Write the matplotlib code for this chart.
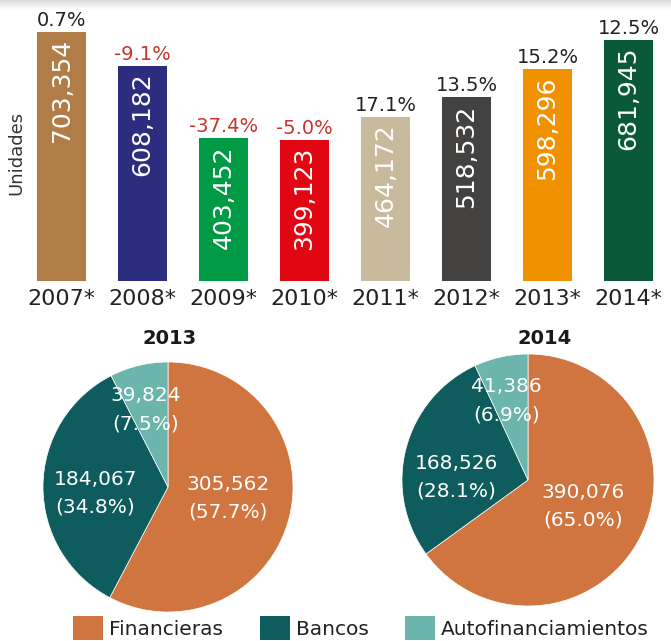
import numpy as np
import matplotlib

matplotlib.use("Agg")
import matplotlib.pyplot as plt
from matplotlib.patches import Patch

# ------------------------------------------------------------------ #
# Data
# ------------------------------------------------------------------ #
years = ["2007*", "2008*", "2009*", "2010*", "2011*", "2012*", "2013*", "2014*"]
units = [703354, 608182, 403452, 399123, 464172, 518532, 598296, 681945]
growth = [0.7, -9.1, -37.4, -5.0, 17.1, 13.5, 15.2, 12.5]
bar_colors = ["#B07D48", "#2D2D7F", "#009944", "#E20613",
              "#C9B99D", "#434241", "#F29100", "#0A5A3A"]

segments = ["Financieras", "Bancos", "Autofinanciamientos"]
pie_2013 = [305562, 184067, 39824]
pie_2014 = [390076, 168526, 41386]
pie_colors = ["#D07540", "#0E5C5E", "#6BB5AC"]

# label anchor positions inside each pie (axis units, radius = 1)
LABEL_POS = {
    "2013": [(0.48, -0.09), (-0.58, -0.05), (-0.18, 0.62)],
    "2014": [(0.44, -0.21), (-0.57, 0.02), (-0.17, 0.63)],
}

W, H = 671, 641
fig = plt.figure(figsize=(W / 100, H / 100), dpi=100)
plt.rcParams["font.family"] = ["DejaVu Sans"]


def fx(px):
    return px / W


def fy(py):
    return 1 - py / H


# faint shadow along the top edge
sh = fig.add_axes([0, fy(10), 1, 10 / H])
grad = np.linspace(0.86, 1.0, 50).reshape(-1, 1)
sh.imshow(grad, cmap="gray", vmin=0, vmax=1, aspect="auto", extent=(0, 1, 0, 1))
sh.axis("off")

# ------------------------------------------------------------------ #
# Bar chart
# ------------------------------------------------------------------ #
bar_bottom = 281
ax = fig.add_axes([fx(21), fy(bar_bottom), fx(648), bar_bottom / H])
ax.patch.set_visible(False)
x = np.arange(len(years))
ax.bar(x, units, width=0.6, color=bar_colors)
ax.set_xlim(-0.5, len(years) - 0.5)
ax.set_ylim(0, units[0] / 249 * bar_bottom)
for s in ax.spines.values():
    s.set_visible(False)
ax.set_yticks([])
ax.set_xticks(x)
ax.set_xticklabels(years, fontsize=16, color="#222222")
ax.tick_params(axis="x", length=0, pad=6)

for xi, v, g in zip(x, units, growth):
    ax.annotate(f"{v:,}", (xi, v), xytext=(0, -7), textcoords="offset pixels",
                rotation=90, ha="center", va="top", color="white", fontsize=18)
    ax.annotate(f"{g:.1f}%", (xi, v), xytext=(0, 6), textcoords="offset pixels",
                ha="center", va="baseline", fontsize=14,
                color="#C8352B" if g < 0 else "#222222")

fig.text(fx(16), fy(153), "Unidades", rotation=90, ha="center", va="center",
         fontsize=13, color="#333333")

# ------------------------------------------------------------------ #
# Pie charts
# ------------------------------------------------------------------ #
def draw_pie(cx, cy, r, values, title, title_x, pos):
    lim = 1.05
    side = 2 * r * lim
    pa = fig.add_axes([fx(cx - side / 2), fy(cy + side / 2), side / W, side / H])
    pa.patch.set_visible(False)
    pa.pie(values, colors=pie_colors, startangle=90, counterclock=False,
           wedgeprops=dict(edgecolor="white", linewidth=0.5))
    pa.set_xlim(-lim, lim)
    pa.set_ylim(-lim, lim)
    total = sum(values)
    for v, (px, py) in zip(values, pos):
        pa.text(px, py, f"{v:,}\n({v / total * 100:.1f}%)", ha="center",
                va="center", color="white", fontsize=14.5, linespacing=1.6)
    fig.text(fx(title_x), fy(339), title, ha="center", va="center",
             fontsize=14, fontweight="bold", color="#1a1a1a")


draw_pie(168, 487, 125, pie_2013, "2013", 170, LABEL_POS["2013"])
draw_pie(528, 480, 126, pie_2014, "2014", 545, LABEL_POS["2014"])

# ------------------------------------------------------------------ #
# Legend
# ------------------------------------------------------------------ #
handles = [Patch(facecolor=c, edgecolor="none") for c in pie_colors]
fig.legend(handles, segments, loc="lower left", bbox_to_anchor=(fx(73), fy(640)),
           ncol=3, frameon=False, fontsize=14.5, handlelength=1.5,
           handleheight=1.45, handletextpad=0.3, columnspacing=1.8,
           borderpad=0, borderaxespad=0, labelcolor="#222222")

fig.savefig("out.png", dpi=100)
